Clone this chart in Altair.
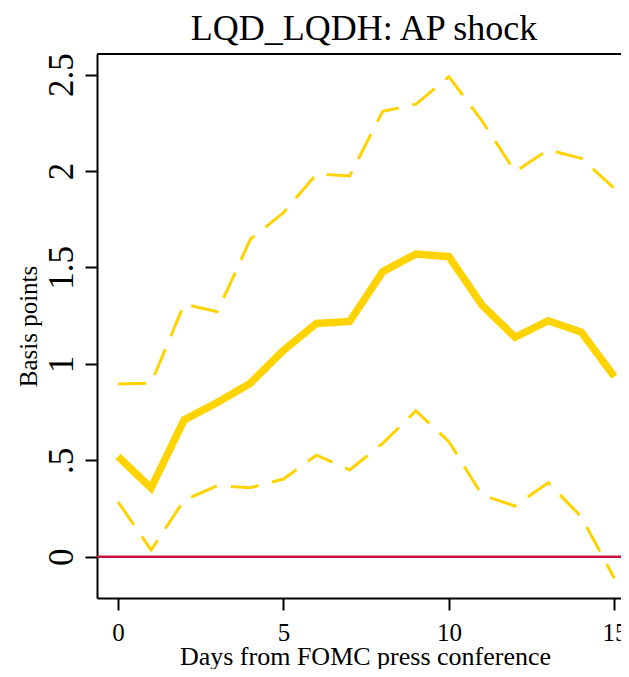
import altair as alt
import pandas as pd

# ---- data ----
days = list(range(16))
irf = [0.52, 0.356, 0.71, 0.80, 0.90, 1.07, 1.21, 1.22, 1.478, 1.57, 1.556, 1.305, 1.138, 1.224, 1.165, 0.934]
upper = [0.896, 0.90, 1.31, 1.27, 1.646, 1.784, 1.985, 1.975, 2.31, 2.346, 2.49, 2.26, 1.997, 2.11, 2.066, 1.91]
lower = [0.285, 0.035, 0.294, 0.368, 0.358, 0.403, 0.527, 0.45, 0.588, 0.756, 0.597, 0.32, 0.263, 0.384, 0.207, -0.112]
zero_line = [0]
x_ticks = [0, 5, 10, 15]
y_ticks = [0, 0.5, 1, 1.5, 2, 2.5]
title_text = "LQD_LQDH: AP shock"
x_title = "Days from FOMC press conference"
y_title = "Basis points"

rows = []
for name, vals in (("irf", irf), ("upper", upper), ("lower", lower)):
    for d, v in zip(days, vals):
        rows.append({"day": d, "value": v, "series": name})
df = pd.DataFrame(rows)
zero_df = pd.DataFrame({"value": zero_line})

W, H = 524, 544
FONT = "Liberation Serif"
GOLD = "#FFD300"
RED = "#C8103C"

x_enc = alt.X(
    "day:Q",
    scale=alt.Scale(domain=[-0.635, 15.2], nice=False, zero=False),
    axis=alt.Axis(
        values=x_ticks, format="d", title=x_title, grid=False,
        domainColor="black", domainWidth=2, tickColor="black", tickWidth=2, tickSize=12,
        labelFont=FONT, labelFontSize=25, labelColor="black", labelPadding=30,
        labelBaseline="alphabetic", labelFlush=False, labelOverlap=False,
        titleFont=FONT, titleFontSize=26, titleFontWeight="normal", titleColor="black",
        titleBaseline="alphabetic", titleAlign="center", titleY=66, titleX=268,
    ),
)
y_axis = alt.Axis(
    values=y_ticks, labelExpr="datum.value == 0.5 ? '.5' : format(datum.value, '~g')",
    title=y_title, grid=False,
    domainColor="black", domainWidth=2, tickColor="black", tickWidth=2, tickSize=12,
    labelFont=FONT, labelFontSize=35, labelColor="black", labelAngle=270,
    labelAlign="center", labelBaseline="alphabetic", labelPadding=13,
    labelFlush=False, labelOverlap=False,
    titleFont=FONT, titleFontSize=25, titleFontWeight="normal", titleColor="black",
    titleAngle=270, titleAlign="center", titleBaseline="alphabetic", titleX=-61,
)
y_scale = alt.Scale(domain=[-0.214, 2.607], nice=False, zero=False)
y_enc = alt.Y("value:Q", scale=y_scale, axis=y_axis)

base = alt.Chart(df)

zero_rule = alt.Chart(zero_df).mark_rule(color=RED, strokeWidth=2.5).encode(y=y_enc)
upper_line = base.transform_filter(alt.datum.series == "upper").mark_line(
    color=GOLD, strokeWidth=3, strokeDash=[28, 14], strokeCap="butt"
).encode(x=x_enc, y=y_enc)
lower_line = base.transform_filter(alt.datum.series == "lower").mark_line(
    color=GOLD, strokeWidth=3, strokeDash=[28, 14], strokeCap="butt"
).encode(x=x_enc, y=y_enc)
irf_line = base.transform_filter(alt.datum.series == "irf").mark_line(
    color=GOLD, strokeWidth=7.5, strokeCap="butt"
).encode(x=x_enc, y=y_enc)
top_border = alt.Chart(zero_df).mark_rule(color="black", strokeWidth=2).encode(
    y=alt.value(0), x=alt.value(0), x2=alt.value(W)
)

chart = alt.layer(zero_rule, upper_line, lower_line, irf_line, top_border).properties(
    width=W,
    height=H,
    autosize=alt.AutoSizeParams(type="none"),
    padding={"left": 89, "top": 46, "right": 0, "bottom": 71},
    title=alt.TitleParams(
        text=title_text, font=FONT, fontSize=36, fontWeight="normal", color="black",
        anchor="middle", offset=5, dx=5, frame="group",
    ),
).configure_view(stroke=None).configure(background="white")

chart.save("out.html", embed_options={"renderer": "svg", "actions": False})
